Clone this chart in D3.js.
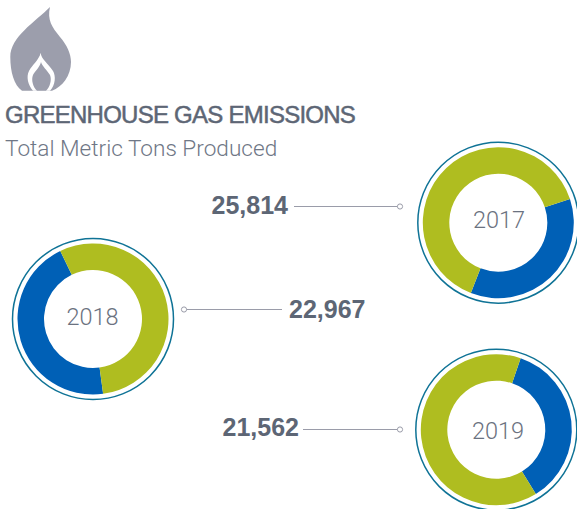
<!DOCTYPE html>
<html>
<head>
<meta charset="utf-8">
<script src="https://cdn.jsdelivr.net/npm/d3@7"></script>
<style>
  html, body { margin: 0; padding: 0; background: #fff; }
  text { font-family: "Liberation Sans", sans-serif; }
  .light { font-family: "Roboto", "Liberation Sans", sans-serif; font-weight: 300; }
</style>
</head>
<body>
<div id="chart"></div>
<script>
// Values
var years = ["2017", "2018", "2019"];
var totals = [25814, 22967, 21562];
var blueShare = [36, 45, 36];
var greenShare = [64, 55, 64];
var sliceColors = ["#0060b6", "#afbd20"];

var svgWidth = 577;
var svgHeight = 509;

var svg = d3.select("#chart")
    .append("svg")
    .attr("width", svgWidth)
    .attr("height", svgHeight)
    .style("display", "block");

// Where each donut sits, and where its blue slice starts (degrees clockwise from 12)
var donutLayout = [
    { cx: 498.3, cy: 222.7, start: 71.7, yearX: 0.7, yearY: 5.3, dot: [400, 206.5], lineEnd: 294, labelX: 288, labelY: 214, anchor: "end" },
    { cx: 93, cy: 319, start: 172.3, yearX: -0.5, yearY: 5.5, dot: [184, 309.5], lineEnd: 282, labelX: 289, labelY: 318, anchor: "start" },
    { cx: 496.3, cy: 429.7, start: 18.8, yearX: 1.7, yearY: 9.3, dot: [400, 429.5], lineEnd: 303, labelX: 299, labelY: 436, anchor: "end" }
];

var outerRadius = 75.5;
var innerRadius = 49;
var ringRadius = 80.5;

var arc = d3.arc().innerRadius(innerRadius).outerRadius(outerRadius);
var formatTotal = d3.format(",");

years.forEach(function(year, i) {
    var spot = donutLayout[i];
    var start = spot.start * Math.PI / 180;
    var pie = d3.pie().sort(null)
        .startAngle(start)
        .endAngle(start + 2 * Math.PI);

    var group = svg.append("g")
        .attr("transform", `translate(${spot.cx}, ${spot.cy})`);

    group.append("circle")
        .attr("r", ringRadius)
        .attr("fill", "none")
        .attr("stroke", "#0f7396")
        .attr("stroke-width", 1.5);

    group.selectAll("path")
        .data(pie([blueShare[i], greenShare[i]]))
        .enter()
        .append("path")
        .attr("d", arc)
        .attr("fill", function(d, j) { return sliceColors[j]; });

    group.append("text")
        .text(year)
        .attr("class", "light")
        .attr("x", spot.yearX)
        .attr("y", spot.yearY)
        .attr("text-anchor", "middle")
        .attr("font-size", "23.5px")
        .attr("fill", "#6b7280");

    // Leader line, small open dot and the total
    svg.append("line")
        .attr("x1", spot.lineEnd)
        .attr("x2", spot.dot[0])
        .attr("y1", spot.dot[1])
        .attr("y2", spot.dot[1])
        .attr("stroke", "#9a9ca9")
        .attr("stroke-width", 1);

    svg.append("circle")
        .attr("cx", spot.dot[0])
        .attr("cy", spot.dot[1])
        .attr("r", 2.6)
        .attr("fill", "#fff")
        .attr("stroke", "#9a9ca9")
        .attr("stroke-width", 1);

    svg.append("text")
        .text(formatTotal(totals[i]))
        .attr("x", spot.labelX)
        .attr("y", spot.labelY)
        .attr("text-anchor", spot.anchor)
        .attr("font-size", "25px")
        .attr("font-weight", 700)
        .attr("fill", "#5d6675");
});

// Flame icon
svg.append("path")
    .attr("d", "M50,7 C47,20 52,27 60,37 C67,45 71,54 71,62 C71,76 62,87 52,90.7 L22,90.7 C14,85 10.3,72 10.3,57 C10.3,37 35,22 50,7 Z")
    .attr("fill", "#9c9eac");
svg.append("path")
    .attr("d", "M40.7,52.7 C41,59 48,63 53,71 C56,76 55.5,85 50,90.7 L33,90.7 C28,85 26,77 29,71 C32,65 39,60 40.7,52.7 Z")
    .attr("fill", "#fff");
svg.append("path")
    .attr("d", "M41,62 C42,66 47,70 50,75 C52,80 50,87 46,90.7 L37,90.7 C33,87 31,80 33,75 C35,71 40,67 41,62 Z")
    .attr("fill", "#9c9eac");

svg.append("text")
    .text("GREENHOUSE GAS EMISSIONS")
    .attr("x", 5)
    .attr("y", 123)
    .attr("font-size", "24px")
    .attr("letter-spacing", "-0.75px")
    .attr("stroke", "#5d6675")
    .attr("stroke-width", 0.5)
    .attr("fill", "#5d6675");

svg.append("text")
    .text("Total Metric Tons Produced")
    .attr("class", "light")
    .attr("x", 5)
    .attr("y", 156)
    .attr("font-size", "22.6px")
    .attr("fill", "#6f7786");
</script>
</body>
</html>
